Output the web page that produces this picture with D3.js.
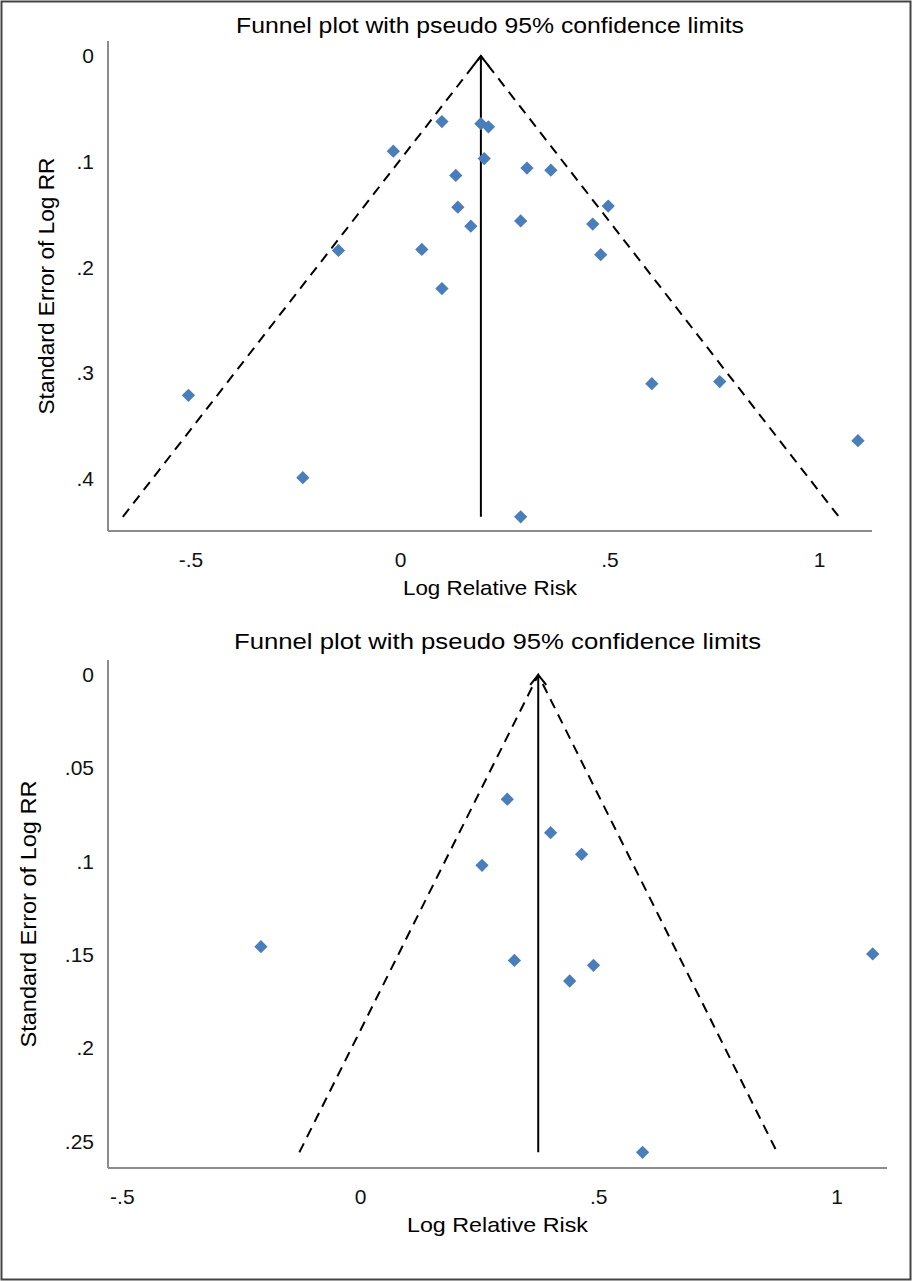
<!DOCTYPE html>
<html>
<head>
<meta charset="utf-8">
<style>
body { margin: 0; background: #fff; }
svg { display: block; font-family: "Liberation Sans", Arial, sans-serif; }
.axis path { stroke: #8c8c8c; stroke-width: 2px; }
.axis text { font-size: 21px; fill: #111; }
.dots path { fill: #4a7ebb; }
</style>
<script src="https://cdn.jsdelivr.net/npm/d3@7/dist/d3.min.js"></script>
</head>
<body>
<script>
// top panel: log RR and its standard error for each study
var topLogRR = [0.100, -0.016, 0.133, 0.138, -0.147, 0.052, 0.100, -0.505, -0.232,
                0.193, 0.211, 0.201, 0.303, 0.360, 0.169, 0.288, 0.497, 0.460,
                0.479, 0.601, 0.763, 1.093, 0.288];
var topSE = [0.062, 0.090, 0.113, 0.143, 0.184, 0.183, 0.220, 0.321, 0.399,
             0.064, 0.067, 0.097, 0.106, 0.108, 0.161, 0.156, 0.142, 0.159,
             0.188, 0.310, 0.308, 0.364, 0.436];
var topPooled = 0.193;
var topXTicks = [-0.5, 0, 0.5, 1];
var topYTicks = [0, 0.1, 0.2, 0.3, 0.4];

// bottom panel
var bottomLogRR = [0.309, 0.400, 0.465, 0.256, 0.324, 0.490, 0.440, 1.076, -0.208, 0.593];
var bottomSE = [0.0666, 0.0845, 0.0961, 0.102, 0.153, 0.1556, 0.164, 0.1495, 0.1456, 0.2558];
var bottomPooled = 0.374;
var bottomXTicks = [-0.5, 0, 0.5, 1];
var bottomYTicks = [0, 0.05, 0.1, 0.15, 0.2, 0.25];

var titleText = "Funnel plot with pseudo 95% confidence limits";
var xTitle = "Log Relative Risk";
var yTitle = "Standard Error of Log RR";

var W = 912, H = 1281;

var svg = d3.select("body").append("svg")
  .attr("width", W)
  .attr("height", H);

svg.append("rect")
  .attr("x", 1.5).attr("y", 1.5)
  .attr("width", W - 3).attr("height", H - 3)
  .attr("fill", "none")
  .attr("stroke", "#444")
  .attr("stroke-width", 2);

// stata style numbers: .5, -.5, .05
var fmt = function(d) {
  return String(+d.toFixed(3)).replace(/^(-?)0\./, "$1.");
};

function panel(cfg) {
  var x = d3.scaleLinear().domain(cfg.xDomain).range([cfg.left, cfg.right]);
  var y = d3.scaleLinear().domain(cfg.yDomain).range([cfg.top, cfg.bottom]);
  var g = svg.append("g");

  g.append("g")
    .attr("class", "axis")
    .attr("transform", "translate(0," + cfg.bottom + ")")
    .call(d3.axisBottom(x).tickValues(cfg.xTicks).tickSize(0).tickPadding(21).tickFormat(fmt))
    .call(function(a) { a.select(".domain").attr("d", "M" + cfg.left + ",0H" + cfg.right); });

  g.append("g")
    .attr("class", "axis")
    .attr("transform", "translate(" + cfg.left + ",0)")
    .call(d3.axisLeft(y).tickValues(cfg.yTicks).tickSize(0).tickPadding(14).tickFormat(fmt))
    .call(function(a) { a.select(".domain").attr("d", "M0," + cfg.top + "V" + cfg.bottom); });

  g.selectAll(".axis text").attr("font-family", null).attr("font-size", null);

  var seMax = d3.max(cfg.se);

  // pseudo 95% limits
  var lim = [
    [[cfg.pooled - 1.96 * seMax, seMax], [cfg.pooled, 0], [cfg.pooled + 1.96 * seMax, seMax]]
  ];
  var line = d3.line().x(function(d) { return x(d[0]); }).y(function(d) { return y(d[1]); });
  g.append("path")
    .attr("d", line(lim[0]))
    .attr("fill", "none")
    .attr("stroke", "#000")
    .attr("stroke-width", 2)
    .attr("stroke-dasharray", "10,7");

  // pooled estimate line with open arrow at top
  g.append("path")
    .attr("d", line([[cfg.pooled, seMax], [cfg.pooled, 0]]))
    .attr("stroke", "#000")
    .attr("stroke-width", 2);
  var ax = x(cfg.pooled), ay = y(0);
  g.append("path")
    .attr("d", "M" + (ax - 8) + "," + (ay + 10) + "L" + ax + "," + ay + "L" + (ax + 8) + "," + (ay + 10))
    .attr("fill", "none")
    .attr("stroke", "#000")
    .attr("stroke-width", 2);

  var sym = d3.symbol().type(d3.symbolSquare).size(88);
  g.append("g").attr("class", "dots")
    .selectAll("path")
    .data(cfg.rr.map(function(v, i) { return [v, cfg.se[i]]; }))
    .enter().append("path")
    .attr("d", sym)
    .attr("transform", function(d) { return "translate(" + x(d[0]) + "," + y(d[1]) + ") rotate(45)"; });

  var cx = (cfg.left + cfg.right) / 2;
  g.append("text")
    .attr("x", cx).attr("y", cfg.titleY)
    .attr("text-anchor", "middle")
    .attr("font-size", 22)
    .attr("textLength", cfg.titleW)
    .attr("lengthAdjust", "spacingAndGlyphs")
    .text(titleText);

  g.append("text")
    .attr("x", cx).attr("y", cfg.bottom + 64)
    .attr("text-anchor", "middle")
    .attr("font-size", 21)
    .attr("textLength", cfg.xTitleW)
    .attr("lengthAdjust", "spacingAndGlyphs")
    .text(xTitle);

  g.append("text")
    .attr("transform", "translate(" + cfg.yTitleX + "," + (cfg.top + cfg.bottom) / 2 + ") rotate(-90)")
    .attr("text-anchor", "middle")
    .attr("font-size", 22)
    .attr("textLength", cfg.yTitleW)
    .attr("lengthAdjust", "spacingAndGlyphs")
    .text(yTitle);
}

panel({
  rr: topLogRR, se: topSE, pooled: topPooled,
  xTicks: topXTicks, yTicks: topYTicks,
  xDomain: [-0.697, 1.1265], yDomain: [-0.0142, 0.4494],
  left: 108, right: 872, top: 41, bottom: 531,
  titleY: 33, titleW: 508, xTitleW: 174, yTitleX: 54, yTitleW: 257
});

panel({
  rr: bottomLogRR, se: bottomSE, pooled: bottomPooled,
  xTicks: bottomXTicks, yTicks: bottomYTicks,
  xDomain: [-0.529, 1.106], yDomain: [-0.008, 0.2642],
  left: 108, right: 887, top: 660, bottom: 1168,
  titleY: 649, titleW: 527, xTitleW: 181, yTitleX: 36, yTitleW: 267
});
</script>
</body>
</html>
